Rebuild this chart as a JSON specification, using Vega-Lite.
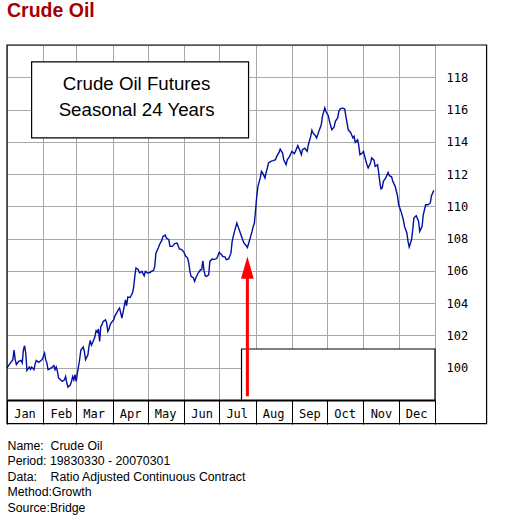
{
  "$schema": "https://vega.github.io/schema/vega-lite/v6.json",
  "width": 428,
  "height": 355,
  "autosize": {"type": "none"},
  "padding": {"left": 7, "top": 45, "right": 70, "bottom": 121},
  "background": "white",
  "title": {"text": "Crude Oil", "anchor": "start", "frame": "group", "orient": "top", "font": "Liberation Sans", "fontSize": 19.5, "fontWeight": "bold", "color": "#a30000", "baseline": "alphabetic", "offset": 7.5},
  "config": {
    "view": {"stroke": null},
    "axisX": {
      "tickCount": {"interval": "month", "step": 1},
      "labelExpr": "utcyear(datum.value) > 2001 ? '' : utcFormat(datum.value, '%b')",
      "grid": true, "gridColor": "#a8a8a8", "gridWidth": 1, "gridOpacity": 1,
      "ticks": true, "tickSize": 24, "tickColor": "black", "tickWidth": 1,
      "domain": true, "domainColor": "black", "domainWidth": 2,
      "labelFont": "DejaVu Sans Mono", "labelFontSize": 12, "labelColor": "black",
      "labelAlign": "center", "labelBaseline": "middle", "labelPadding": -11, "labelOffset": 17.5,
      "labelOverlap": false, "labelFlush": false, "labelBound": false,
      "titleAnchor": "start", "titleAlign": "left", "titleBaseline": "alphabetic", "titleX": 0, "titleY": 49,
      "titleFont": "Liberation Sans", "titleFontSize": 12.3, "titleFontWeight": "normal", "titleColor": "black", "titleLineHeight": 15.6, "titleLimit": 800
    },
    "axisY": {
      "tickCount": 11,
      "labelExpr": "datum.value < 99 || datum.value > 119 ? '' : datum.label",
      "grid": true, "gridColor": "#a8a8a8", "gridWidth": 1, "gridOpacity": 1,
      "ticks": false, "domain": false, "labelPadding": 11,
      "labelFont": "DejaVu Sans Mono", "labelFontSize": 12, "labelColor": "black",
      "labelAlign": "left", "labelBaseline": "middle"
    }
  },
  "layer": [
    {
      "data": {"values": [
        {"date":"2001-01-01","value":100.0},{"date":"2001-01-04","value":100.3},{"date":"2001-01-06","value":100.5},{"date":"2001-01-07","value":101.1},{"date":"2001-01-08","value":100.5},{"date":"2001-01-09","value":100.2},{"date":"2001-01-11","value":100.4},{"date":"2001-01-13","value":100.45},{"date":"2001-01-14","value":100.3},{"date":"2001-01-15","value":101.1},{"date":"2001-01-16","value":101.36},{"date":"2001-01-17","value":100.9},{"date":"2001-01-18","value":99.83},{"date":"2001-01-20","value":100.04},{"date":"2001-01-21","value":99.9},{"date":"2001-01-22","value":100.04},{"date":"2001-01-24","value":99.88},{"date":"2001-01-25","value":100.25},{"date":"2001-01-26","value":100.45},{"date":"2001-01-28","value":100.33},{"date":"2001-01-30","value":100.45},{"date":"2001-01-31","value":100.5},
        {"date":"2001-02-02","value":100.9},{"date":"2001-02-03","value":100.5},{"date":"2001-02-04","value":100.3},{"date":"2001-02-05","value":99.88},{"date":"2001-02-06","value":99.92},{"date":"2001-02-08","value":100.0},{"date":"2001-02-10","value":100.13},{"date":"2001-02-11","value":99.88},{"date":"2001-02-12","value":100.04},{"date":"2001-02-13","value":99.77},{"date":"2001-02-14","value":99.36},{"date":"2001-02-15","value":99.3},{"date":"2001-02-17","value":99.15},{"date":"2001-02-19","value":99.25},{"date":"2001-02-20","value":99.46},{"date":"2001-02-21","value":99.05},{"date":"2001-02-22","value":98.8},{"date":"2001-02-24","value":98.94},{"date":"2001-02-25","value":99.15},{"date":"2001-02-26","value":99.46},{"date":"2001-02-27","value":99.25},{"date":"2001-02-28","value":99.57},
        {"date":"2001-03-01","value":99.15},{"date":"2001-03-02","value":99.67},{"date":"2001-03-03","value":100.08},{"date":"2001-03-04","value":100.54},{"date":"2001-03-05","value":101.1},{"date":"2001-03-07","value":101.28},{"date":"2001-03-08","value":101.0},{"date":"2001-03-09","value":100.5},{"date":"2001-03-11","value":100.8},{"date":"2001-03-12","value":101.36},{"date":"2001-03-13","value":101.7},{"date":"2001-03-14","value":101.4},{"date":"2001-03-15","value":101.55},{"date":"2001-03-17","value":101.93},{"date":"2001-03-18","value":102.3},{"date":"2001-03-19","value":102.2},{"date":"2001-03-20","value":102.4},{"date":"2001-03-21","value":101.63},{"date":"2001-03-22","value":102.56},{"date":"2001-03-23","value":102.67},{"date":"2001-03-24","value":102.87},{"date":"2001-03-26","value":102.97},{"date":"2001-03-27","value":102.77},{"date":"2001-03-28","value":102.25},{"date":"2001-03-29","value":102.4},{"date":"2001-03-30","value":102.67},{"date":"2001-03-31","value":102.8},
        {"date":"2001-04-02","value":102.97},{"date":"2001-04-03","value":103.2},{"date":"2001-04-06","value":103.6},{"date":"2001-04-07","value":103.7},{"date":"2001-04-09","value":103.08},{"date":"2001-04-11","value":103.8},{"date":"2001-04-12","value":104.2},{"date":"2001-04-13","value":103.84},{"date":"2001-04-14","value":104.38},{"date":"2001-04-16","value":104.35},{"date":"2001-04-18","value":104.63},{"date":"2001-04-19","value":105.0},{"date":"2001-04-20","value":105.66},{"date":"2001-04-21","value":106.18},{"date":"2001-04-23","value":106.07},{"date":"2001-04-24","value":105.87},{"date":"2001-04-26","value":105.97},{"date":"2001-04-28","value":105.7},{"date":"2001-04-29","value":105.97},
        {"date":"2001-05-01","value":105.87},{"date":"2001-05-03","value":105.9},{"date":"2001-05-04","value":105.97},{"date":"2001-05-06","value":106.03},{"date":"2001-05-07","value":106.28},{"date":"2001-05-08","value":107.1},{"date":"2001-05-10","value":107.42},{"date":"2001-05-11","value":107.62},{"date":"2001-05-13","value":107.89},{"date":"2001-05-14","value":108.14},{"date":"2001-05-16","value":108.22},{"date":"2001-05-17","value":108.03},{"date":"2001-05-19","value":107.93},{"date":"2001-05-20","value":107.52},{"date":"2001-05-22","value":107.52},{"date":"2001-05-24","value":107.69},{"date":"2001-05-26","value":107.73},{"date":"2001-05-27","value":107.56},{"date":"2001-05-28","value":107.36},{"date":"2001-05-30","value":107.32},
        {"date":"2001-06-01","value":107.15},{"date":"2001-06-02","value":106.95},{"date":"2001-06-04","value":106.8},{"date":"2001-06-05","value":106.5},{"date":"2001-06-06","value":105.97},{"date":"2001-06-07","value":105.66},{"date":"2001-06-09","value":105.56},{"date":"2001-06-10","value":105.35},{"date":"2001-06-11","value":105.56},{"date":"2001-06-13","value":105.87},{"date":"2001-06-15","value":106.07},{"date":"2001-06-16","value":106.07},{"date":"2001-06-17","value":106.63},{"date":"2001-06-18","value":106.03},{"date":"2001-06-19","value":105.7},{"date":"2001-06-20","value":105.66},{"date":"2001-06-22","value":105.76},{"date":"2001-06-23","value":106.59},{"date":"2001-06-25","value":106.74},{"date":"2001-06-26","value":106.7},{"date":"2001-06-28","value":106.74},{"date":"2001-06-29","value":106.78},
        {"date":"2001-07-01","value":107.15},{"date":"2001-07-03","value":107.0},{"date":"2001-07-04","value":106.9},{"date":"2001-07-06","value":106.86},{"date":"2001-07-07","value":106.7},{"date":"2001-07-09","value":106.74},{"date":"2001-07-11","value":107.1},{"date":"2001-07-12","value":107.83},{"date":"2001-07-14","value":108.45},{"date":"2001-07-16","value":108.97},{"date":"2001-07-17","value":108.76},{"date":"2001-07-19","value":108.35},{"date":"2001-07-21","value":107.93},{"date":"2001-07-22","value":107.73},{"date":"2001-07-24","value":107.56},{"date":"2001-07-25","value":107.45},{"date":"2001-07-27","value":107.93},{"date":"2001-07-29","value":108.45},{"date":"2001-07-30","value":108.76},{"date":"2001-07-31","value":108.97},
        {"date":"2001-08-01","value":109.79},{"date":"2001-08-02","value":110.62},{"date":"2001-08-03","value":111.24},{"date":"2001-08-05","value":111.76},{"date":"2001-08-06","value":112.17},{"date":"2001-08-07","value":112.07},{"date":"2001-08-09","value":111.76},{"date":"2001-08-10","value":112.1},{"date":"2001-08-11","value":112.38},{"date":"2001-08-12","value":112.69},{"date":"2001-08-14","value":112.79},{"date":"2001-08-16","value":112.83},{"date":"2001-08-18","value":112.89},{"date":"2001-08-19","value":113.1},{"date":"2001-08-21","value":113.34},{"date":"2001-08-22","value":113.55},{"date":"2001-08-24","value":113.3},{"date":"2001-08-25","value":112.89},{"date":"2001-08-27","value":112.58},{"date":"2001-08-28","value":112.89},{"date":"2001-08-30","value":113.1},
        {"date":"2001-09-01","value":113.41},{"date":"2001-09-03","value":113.27},{"date":"2001-09-04","value":113.41},{"date":"2001-09-06","value":113.76},{"date":"2001-09-08","value":113.41},{"date":"2001-09-09","value":113.2},{"date":"2001-09-10","value":113.51},{"date":"2001-09-12","value":113.6},{"date":"2001-09-14","value":113.41},{"date":"2001-09-15","value":113.82},{"date":"2001-09-17","value":114.34},{"date":"2001-09-18","value":114.71},{"date":"2001-09-19","value":114.55},{"date":"2001-09-21","value":114.38},{"date":"2001-09-22","value":114.24},{"date":"2001-09-24","value":114.65},{"date":"2001-09-26","value":115.06},{"date":"2001-09-27","value":115.58},{"date":"2001-09-29","value":116.1},{"date":"2001-09-30","value":115.88},
        {"date":"2001-10-02","value":115.62},{"date":"2001-10-03","value":115.27},{"date":"2001-10-05","value":114.75},{"date":"2001-10-07","value":114.92},{"date":"2001-10-08","value":115.27},{"date":"2001-10-10","value":115.48},{"date":"2001-10-11","value":115.88},{"date":"2001-10-12","value":116.03},{"date":"2001-10-14","value":116.1},{"date":"2001-10-16","value":116.03},{"date":"2001-10-17","value":115.58},{"date":"2001-10-18","value":115.17},{"date":"2001-10-19","value":114.75},{"date":"2001-10-21","value":114.58},{"date":"2001-10-23","value":114.24},{"date":"2001-10-24","value":114.34},{"date":"2001-10-25","value":113.96},{"date":"2001-10-27","value":114.13},{"date":"2001-10-28","value":113.76},{"date":"2001-10-29","value":113.2},{"date":"2001-10-31","value":113.31},
        {"date":"2001-11-01","value":113.41},{"date":"2001-11-02","value":113.1},{"date":"2001-11-04","value":112.58},{"date":"2001-11-05","value":112.38},{"date":"2001-11-07","value":112.69},{"date":"2001-11-08","value":113.0},{"date":"2001-11-10","value":112.86},{"date":"2001-11-11","value":112.48},{"date":"2001-11-13","value":112.58},{"date":"2001-11-14","value":112.07},{"date":"2001-11-15","value":111.45},{"date":"2001-11-16","value":111.08},{"date":"2001-11-17","value":111.14},{"date":"2001-11-18","value":111.55},{"date":"2001-11-20","value":111.76},{"date":"2001-11-22","value":112.1},{"date":"2001-11-23","value":111.9},{"date":"2001-11-25","value":111.83},{"date":"2001-11-26","value":111.55},{"date":"2001-11-28","value":111.24},{"date":"2001-11-30","value":110.66},
        {"date":"2001-12-01","value":110.1},{"date":"2001-12-03","value":109.69},{"date":"2001-12-05","value":109.17},{"date":"2001-12-06","value":108.76},{"date":"2001-12-08","value":108.35},{"date":"2001-12-09","value":107.83},{"date":"2001-12-10","value":107.48},{"date":"2001-12-12","value":107.93},{"date":"2001-12-13","value":108.55},{"date":"2001-12-14","value":109.28},{"date":"2001-12-16","value":109.42},{"date":"2001-12-18","value":109.07},{"date":"2001-12-19","value":108.45},{"date":"2001-12-21","value":108.76},{"date":"2001-12-22","value":109.48},{"date":"2001-12-24","value":110.1},{"date":"2001-12-26","value":110.1},{"date":"2001-12-28","value":110.21},{"date":"2001-12-29","value":110.66},{"date":"2001-12-31","value":110.99}
      ]},
      "mark": {"type": "line", "color": "#0010a0", "strokeWidth": 1.4},
      "encoding": {
        "x": {
          "field": "date", "type": "temporal",
          "scale": {"type": "utc", "nice": false, "domain": [{"year": 2001, "month": 1, "date": 1, "utc": true}, {"year": 2002, "month": 1, "date": 1, "utc": true}]},
          "axis": {
            "orient": "bottom",
            "title": ["Name:\u00a0\u00a0Crude Oil", "Period:\u00a019830330 - 20070301", "Data:\u00a0\u00a0\u00a0\u00a0Ratio Adjusted Continuous Contract", "Method:Growth", "Source:Bridge"]
          }
        },
        "y": {
          "field": "value", "type": "quantitative",
          "scale": {"domain": [98, 120], "nice": false, "zero": false},
          "axis": {"orient": "right", "title": null}
        }
      }
    },
    {
      "data": {"values": [{"note": "caption box"}]},
      "mark": {"type": "rect", "fill": "white", "stroke": "black", "strokeWidth": 1.2},
      "encoding": {
        "x": {"datum": {"year": 2001, "month": 1, "date": 22, "utc": true}, "type": "temporal"},
        "x2": {"datum": {"year": 2001, "month": 7, "date": 26, "utc": true}},
        "y": {"datum": 118.95, "type": "quantitative"},
        "y2": {"datum": 114.24}
      }
    },
    {
      "data": {"values": [{"note": "caption"}]},
      "mark": {"type": "text", "font": "Liberation Sans", "fontSize": 18.7, "align": "center", "baseline": "alphabetic", "lineHeight": 26.7, "color": "black"},
      "encoding": {
        "x": {"datum": {"year": 2001, "month": 4, "date": 21, "hours": 12, "utc": true}, "type": "temporal"},
        "y": {"datum": 117.23, "type": "quantitative"},
        "text": {"value": ["Crude Oil Futures", "Seasonal 24 Years"]}
      }
    },
    {
      "data": {"values": [{"note": "empty box"}]},
      "mark": {"type": "rect", "fill": "white", "stroke": "black", "strokeWidth": 1.2},
      "encoding": {
        "x": {"datum": {"year": 2001, "month": 7, "date": 20, "utc": true}, "type": "temporal"},
        "x2": {"datum": {"year": 2002, "month": 1, "date": 1, "utc": true}},
        "y": {"datum": 101.16, "type": "quantitative"},
        "y2": {"datum": 98}
      }
    },
    {
      "data": {"values": [{"note": "arrow"}]},
      "mark": {"type": "rule", "color": "#ff0000", "strokeWidth": 3},
      "encoding": {
        "x": {"datum": {"year": 2001, "month": 7, "date": 25, "utc": true}, "type": "temporal"},
        "y": {"datum": 98.23, "type": "quantitative"},
        "y2": {"datum": 105.9}
      }
    },
    {
      "data": {"values": [{"note": "arrow head"}]},
      "mark": {"type": "point", "shape": "M0,-1L0.57,1L-0.57,1Z", "size": 500, "filled": true, "color": "#ff0000", "opacity": 1, "strokeWidth": 0},
      "encoding": {
        "x": {"datum": {"year": 2001, "month": 7, "date": 25, "utc": true}, "type": "temporal"},
        "y": {"datum": 106.2, "type": "quantitative"}
      }
    },
    {
      "data": {"values": [{"note": "frame"}]},
      "mark": {"type": "rect", "filled": false, "stroke": "black", "strokeWidth": 1.2},
      "encoding": {
        "x": {"datum": {"year": 2001, "month": 1, "date": 1, "utc": true}, "type": "temporal"},
        "x2": {"datum": {"year": 2002, "month": 2, "date": 14, "utc": true}},
        "y": {"datum": 120, "type": "quantitative"},
        "y2": {"datum": 96.53}
      }
    }
  ]
}
